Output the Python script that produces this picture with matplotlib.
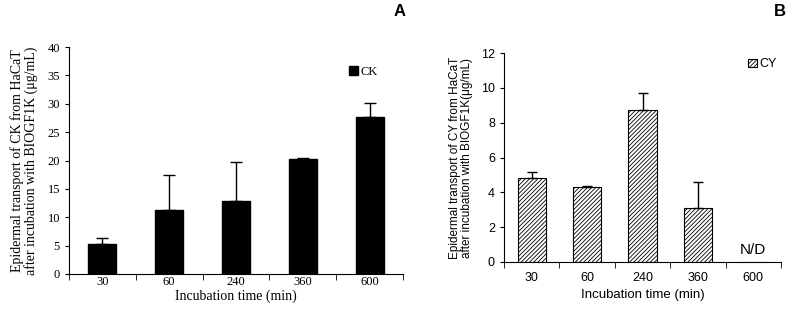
import matplotlib
matplotlib.use("Agg")
import matplotlib.pyplot as plt
import numpy as np

categories = ["30", "60", "240", "360", "600"]
ck_values = [5.3, 11.2, 12.9, 20.2, 27.7]
ck_err = [1.0, 6.2, 6.9, 0.2, 2.5]
cy_values = [4.8, 4.3, 8.7, 3.1, 0.0]
cy_err = [0.35, 0.08, 1.0, 1.5, 0.0]

plt.rcParams["hatch.linewidth"] = 0.6

W, H = 789, 313
fig = plt.figure(figsize=(W / 100, H / 100), dpi=100)

def px_axes(l, r, t, b):
    return fig.add_axes([l / W, (H - b) / H, (r - l) / W, (b - t) / H])

serif = "Liberation Serif"
sans = "Liberation Sans"

# Panel A
axA = px_axes(69, 403, 47, 274)
x = np.arange(len(categories))
axA.bar(x, ck_values, width=0.42, color="black", edgecolor="black", label="CK", zorder=2)
axA.errorbar(x, ck_values, yerr=[np.zeros(len(x)), ck_err], fmt="none", ecolor="black",
             elinewidth=1, capsize=4, capthick=1, zorder=3)
axA.set_xlim(-0.5, 4.5)
axA.set_ylim(0, 40)
axA.set_yticks(np.arange(0, 41, 5))
axA.set_xticks(x)
axA.set_xticklabels(categories)
axA.set_xticks(np.arange(-0.5, 5, 1), minor=True)
axA.tick_params(axis="x", which="major", length=0, pad=1.5)
axA.tick_params(axis="x", which="minor", length=4, direction="out")
axA.tick_params(axis="y", length=3, direction="out")
for lab in axA.get_xticklabels() + axA.get_yticklabels():
    lab.set_fontfamily(serif)
    lab.set_fontsize(9)
for s in ["top", "right"]:
    axA.spines[s].set_visible(False)
axA.set_xlabel("Incubation time (min)", fontfamily=serif, fontsize=10, labelpad=1)
axA.set_ylabel("Epidermal transport of CK from HaCaT\nafter incubation with BIOGF1K (μg/mL)",
               fontfamily=serif, fontsize=10, labelpad=7, linespacing=1.0)
axA.legend(loc="center left", bbox_to_anchor=(0.82, 0.89), frameon=False,
           prop={"family": serif, "size": 9}, handlelength=0.7, handleheight=0.7,
           handletextpad=0.2, borderpad=0)

# Panel B
axB = px_axes(504, 781, 53, 262)
axB.bar(x, cy_values, width=0.51, color="white", edgecolor="black", hatch="////////",
        linewidth=0.8, label="CY", zorder=2)
axB.errorbar(x[:4], cy_values[:4], yerr=[np.zeros(4), cy_err[:4]], fmt="none", ecolor="black",
             elinewidth=1, capsize=3.5, capthick=1, zorder=3)
axB.text(x[4], 0.3, "N/D", ha="center", va="bottom", fontfamily=sans, fontsize=11)
axB.set_xlim(-0.5, 4.5)
axB.set_ylim(0, 12)
axB.set_yticks(np.arange(0, 13, 2))
axB.set_xticks(x)
axB.set_xticklabels(categories)
axB.set_xticks(np.arange(-0.5, 5, 1), minor=True)
axB.tick_params(axis="x", which="major", length=0, pad=7)
axB.tick_params(axis="x", which="minor", length=4, direction="out")
axB.tick_params(axis="y", length=3, direction="out")
for lab in axB.get_xticklabels() + axB.get_yticklabels():
    lab.set_fontfamily(sans)
    lab.set_fontsize(9)
for s in ["top", "right"]:
    axB.spines[s].set_visible(False)
axB.set_xlabel("Incubation time (min)", fontfamily=sans, fontsize=9.5, labelpad=4)
axB.set_ylabel("Epidermal transport of CY from HaCaT\nafter incubation with BIOGF1K(μg/mL)",
               fontfamily=sans, fontsize=8.5, labelpad=6, linespacing=1.0)
axB.legend(loc="center left", bbox_to_anchor=(0.86, 0.945), frameon=False,
           prop={"family": sans, "size": 9}, handlelength=0.7, handleheight=0.7,
           handletextpad=0.2, borderpad=0)

fig.text(400 / W, 1 - 12 / H, "A", ha="center", va="center", fontfamily=sans,
         fontweight="bold", fontsize=12)
fig.text(780 / W, 1 - 12 / H, "B", ha="center", va="center", fontfamily=sans,
         fontweight="bold", fontsize=12)

fig.savefig("out.png", dpi=100)
